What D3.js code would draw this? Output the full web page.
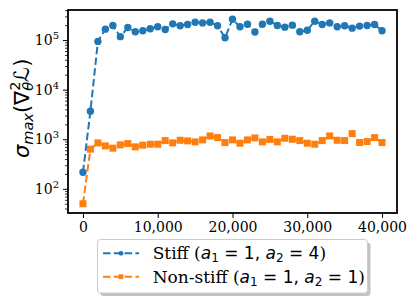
<!DOCTYPE html>
<html>
<head>
<meta charset="utf-8">
<script src="https://cdn.jsdelivr.net/npm/d3@7"></script>
<style>
html,body{margin:0;padding:0;background:#fff;}
svg{display:block;}
</style>
</head>
<body>
<svg id="chart" width="416" height="301"></svg>
<script>
// ---- data ----
const iterations = d3.range(0, 41).map(i => i * 1000);
const stiffValues = [216, 3680, 94000, 166000, 196000, 117000, 179000, 147000, 154000, 169000,
  185000, 163000, 212000, 194000, 206000, 229000, 222000, 229000, 194000, 111000,
  263000, 185000, 209000, 145000, 209000, 240000, 196000, 182000, 200000, 147000,
  158000, 240000, 206000, 222000, 185000, 194000, 174000, 191000, 196000, 206000, 154000];
const nonStiffValues = [50, 631, 845, 735, 661, 771, 819, 703, 759, 794,
  794, 940, 845, 955, 926, 885, 970, 1166, 1080, 858,
  970, 832, 970, 1063, 885, 993, 885, 1047, 1000, 940,
  832, 794, 940, 1166, 955, 940, 1298, 858, 898, 1080, 858];
const xTicks = [0, 10000, 20000, 30000, 40000];
const yTicks = [100, 1000, 10000, 100000];
const seriesNames = ["Stiff", "Non-stiff"];
const seriesColors = ["#1f77b4", "#ff7f0e"];

// ---- layout ----
const svg = d3.select("#chart");
const L = 68, R = 397, T = 10, B = 213;
const x = d3.scaleLinear().domain([-2000, 42000]).range([L, R]);
const y = d3.scaleLog().domain([Math.pow(10, 1.513), Math.pow(10, 5.606)]).range([B, T]);

const serif = "DejaVu Serif", sans = "DejaVu Sans";

// x axis
const xAxis = d3.axisBottom(x).tickValues(xTicks).tickSize(5).tickPadding(4)
  .tickFormat(d3.format(","));
const gx = svg.append("g").attr("transform", `translate(0,${B})`).call(xAxis);
gx.select(".domain").remove();
gx.selectAll(".tick line").attr("stroke", "#000").attr("stroke-width", 1);
gx.selectAll(".tick text").attr("font-family", serif).attr("font-size", 14).attr("fill", "#000");

// y axis major
const yAxis = d3.axisLeft(y).tickValues(yTicks).tickSize(5).tickPadding(4).tickFormat("");
const gy = svg.append("g").attr("transform", `translate(${L},0)`).call(yAxis);
gy.select(".domain").remove();
gy.selectAll(".tick line").attr("stroke", "#000").attr("stroke-width", 1);
gy.selectAll(".tick").each(function(d) {
  const t = d3.select(this).append("text")
    .attr("x", -9).attr("dy", "0.32em")
    .attr("text-anchor", "end")
    .attr("font-family", serif).attr("font-size", 14).attr("fill", "#000");
  t.append("tspan").text("10");
  t.append("tspan").attr("font-size", 10).attr("dy", -6).text(Math.round(Math.log10(d)));
});
// y minor ticks
const minor = [];
for (let e = 1; e <= 5; e++) for (let m = 2; m <= 9; m++) {
  const v = m * Math.pow(10, e);
  if (v >= y.domain()[0] && v <= y.domain()[1]) minor.push(v);
}
const yMinor = d3.axisLeft(y).tickValues(minor).tickSize(3).tickFormat("");
const gym = svg.append("g").attr("transform", `translate(${L},0)`).call(yMinor);
gym.select(".domain").remove();
gym.selectAll(".tick line").attr("stroke", "#000").attr("stroke-width", 0.8);

// series
const all = [stiffValues, nonStiffValues];
const line = d3.line().x((d, i) => x(iterations[i])).y(d => y(d));
all.forEach((vals, si) => {
  const g = svg.append("g");
  g.append("path").datum(vals).attr("d", line)
    .attr("fill", "none").attr("stroke", seriesColors[si])
    .attr("stroke-width", 2).attr("stroke-dasharray", "7.5,3.3");
  if (si === 0) {
    g.selectAll("circle").data(vals).join("circle")
      .attr("cx", (d, i) => x(iterations[i])).attr("cy", d => y(d)).attr("r", 3.7)
      .attr("fill", seriesColors[si]);
  } else {
    g.selectAll("rect").data(vals).join("rect")
      .attr("x", (d, i) => x(iterations[i]) - 3.5).attr("y", d => y(d) - 3.5)
      .attr("width", 7).attr("height", 7)
      .attr("fill", seriesColors[si]);
  }
});

// frame
svg.append("rect").attr("x", L).attr("y", T).attr("width", R - L).attr("height", B - T)
  .attr("fill", "none").attr("stroke", "#000").attr("stroke-width", 1.8);

// y label
const yl = svg.append("text")
  .attr("transform", `translate(28.5,158) rotate(-90)`)
  .attr("text-anchor", "start")
  .attr("font-family", sans).attr("font-size", 21).attr("fill", "#000");
yl.append("tspan").attr("font-style", "italic").text("σ");
yl.append("tspan").attr("font-style", "italic").attr("font-size", 14.5).attr("dy", 4).text("max");
yl.append("tspan").attr("dy", -4).text("(∇");
yl.append("tspan").attr("font-size", 14.5).attr("dy", -8.5).text("2");
yl.append("tspan").attr("font-style", "italic").attr("font-size", 14.5).attr("dx", -9.2).attr("dy", 12.5).text("θ");
yl.append("tspan").attr("font-style", "italic").attr("dy", -4).text("ℒ");
yl.append("tspan").text(")");

// legend
const lg = svg.append("g");
const lx = 97.5, ly = 239.5, lw = 270, lh = 53.5;
lg.append("rect").attr("x", lx + 3).attr("y", ly + 3).attr("width", lw).attr("height", lh)
  .attr("rx", 3).attr("fill", "#888").attr("opacity", 0.5);
lg.append("rect").attr("x", lx).attr("y", ly).attr("width", lw).attr("height", lh)
  .attr("rx", 3).attr("fill", "#fff").attr("stroke", "#cccccc").attr("stroke-width", 1);
const legendLabels = [
  [seriesNames[0], "1", "4"],
  [seriesNames[1], "1", "1"]
];
legendLabels.forEach((lab, i) => {
  const cy = 253.3 + i * 23.4;
  lg.append("line").attr("x1", 103).attr("x2", 139).attr("y1", cy).attr("y2", cy)
    .attr("stroke", seriesColors[i]).attr("stroke-width", 2).attr("stroke-dasharray", "7.5,3.3");
  if (i === 0) lg.append("circle").attr("cx", 121).attr("cy", cy).attr("r", 2.4).attr("fill", seriesColors[i]);
  else lg.append("rect").attr("x", 118.6).attr("y", cy - 2.4).attr("width", 4.8).attr("height", 4.8).attr("fill", seriesColors[i]);
  const t = lg.append("text").attr("x", 152.7).attr("y", cy + 6)
    .attr("font-family", serif).attr("font-size", 17).attr("fill", "#000");
  t.append("tspan").text(lab[0] + " (");
  t.append("tspan").attr("font-family", sans).attr("font-style", "italic").text("a");
  t.append("tspan").attr("font-family", sans).attr("font-size", 12).attr("dy", 3).text("1");
  t.append("tspan").attr("font-family", sans).attr("dy", -3).text(" = 1,  ");
  t.append("tspan").attr("font-family", sans).attr("font-style", "italic").text("a");
  t.append("tspan").attr("font-family", sans).attr("font-size", 12).attr("dy", 3).text("2");
  t.append("tspan").attr("font-family", sans).attr("dy", -3).text(" = " + lab[2]);
  t.append("tspan").text(")");
});
</script>
</body>
</html>
